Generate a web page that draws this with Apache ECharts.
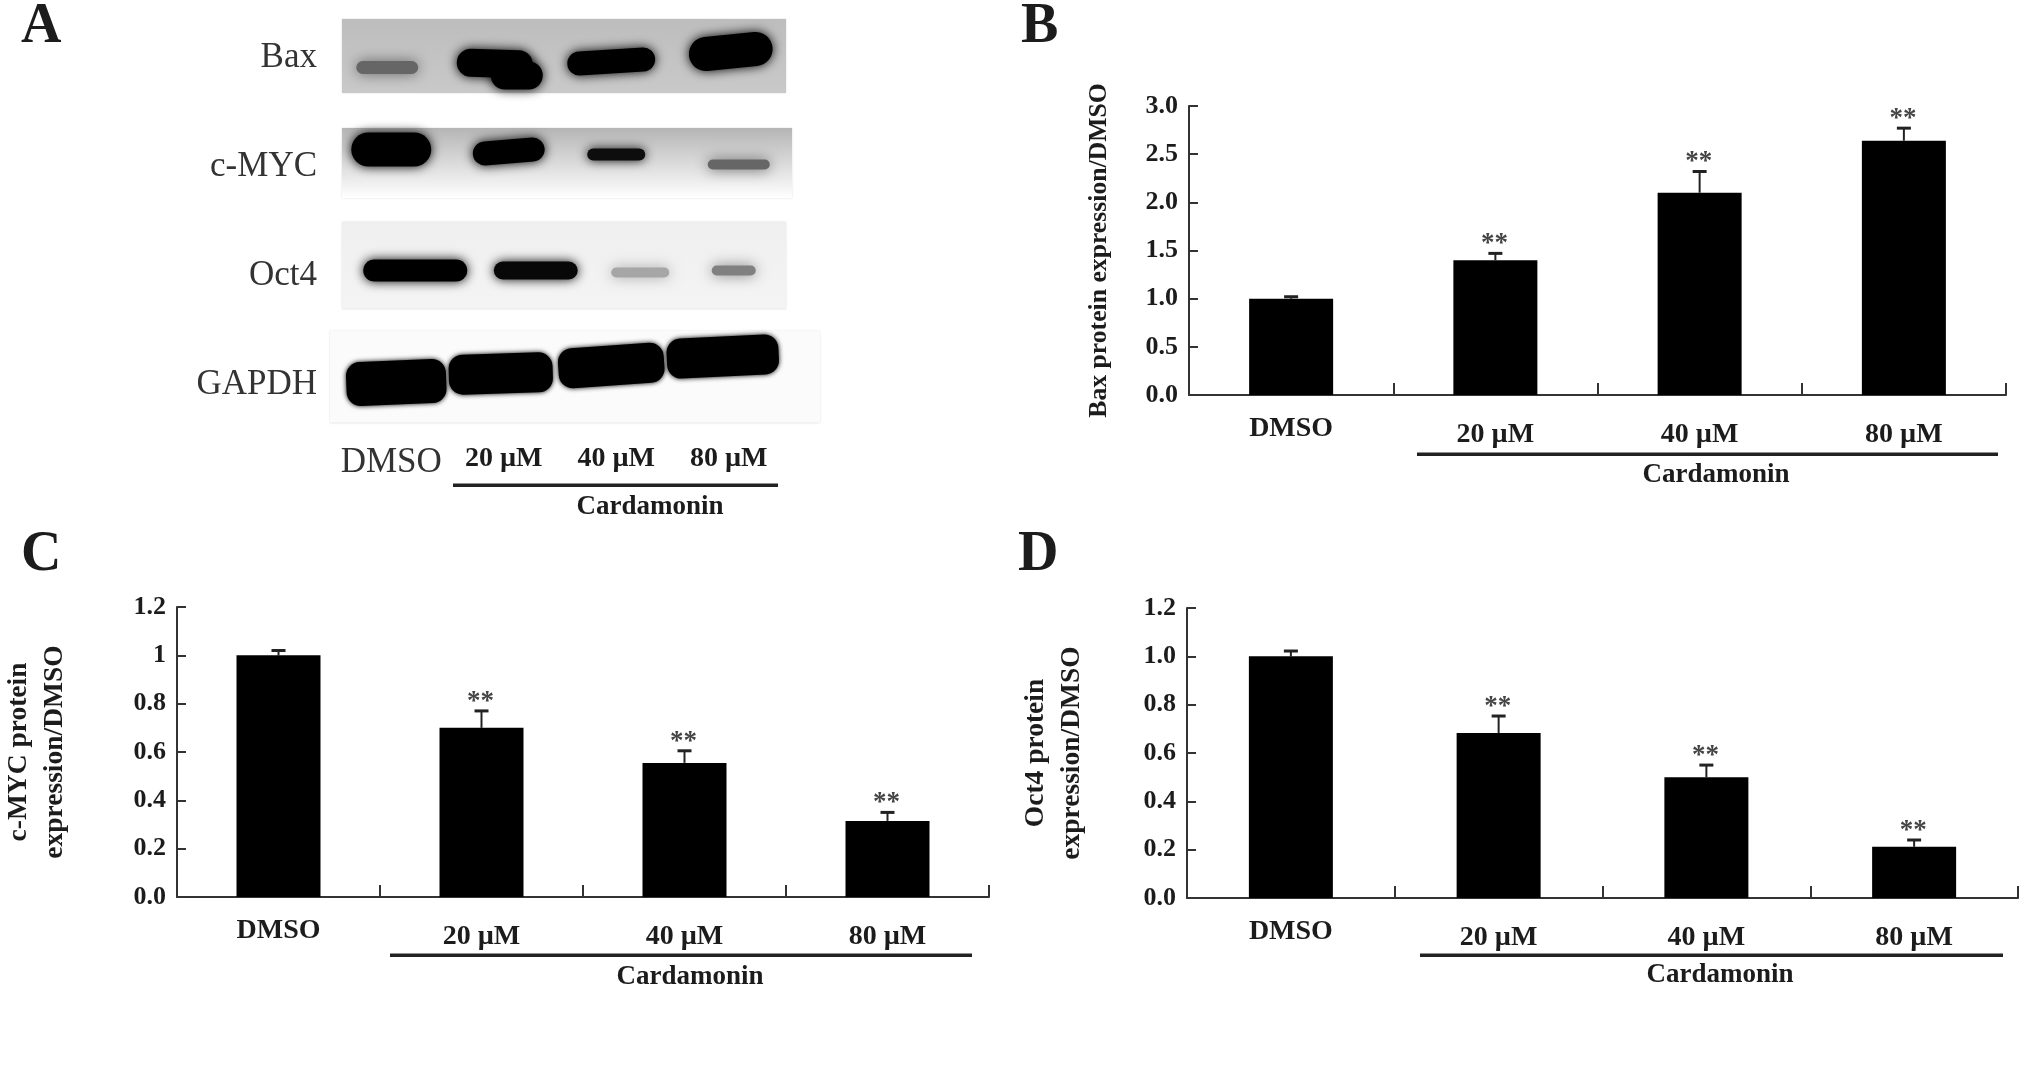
<!DOCTYPE html>
<html><head><meta charset="utf-8">
<style>html,body{margin:0;padding:0;background:#fff}#c{width:2031px;height:1072px;filter:blur(0.6px)}</style>
<script src="https://cdn.jsdelivr.net/npm/echarts@6/dist/echarts.min.js"></script>
</head><body><div id="c"></div>
<script>
// ---------- data ----------
const doseLabels = ['DMSO', '20 µM', '40 µM', '80 µM'];
const blotRows = ['Bax', 'c-MYC', 'Oct4', 'GAPDH'];
const baxBlot = [0.6, 1, 1, 1];
const mycBlot = [1, 1, 0.95, 0.6];
const oct4Blot = [1, 0.97, 0.35, 0.5];
const gapdhBlot = [1, 1, 1, 1];

const baxMean = [1.0, 1.4, 2.1, 2.64];
const baxErrTop = [1.02, 1.47, 2.32, 2.77];
const mycMean = [1.0, 0.7, 0.555, 0.315];
const mycErrTop = [1.02, 0.77, 0.605, 0.35];
const oct4Mean = [1.0, 0.683, 0.5, 0.212];
const oct4ErrTop = [1.022, 0.753, 0.55, 0.24];
const significance = ['', '**', '**', '**'];

const baxTicks = ['0.0', '0.5', '1.0', '1.5', '2.0', '2.5', '3.0'];
const mycTicks = ['0.0', '0.2', '0.4', '0.6', '0.8', '1', '1.2'];
const oct4Ticks = ['0.0', '0.2', '0.4', '0.6', '0.8', '1.0', '1.2'];

// ---------- layout ----------
const FONT = '"Liberation Serif","Times New Roman",serif';
const INK = '#1c1c1c';
const grids = [], xAxes = [], yAxes = [], series = [], graphics = [];

function letter(t, x, y) {
  graphics.push({type:'text', left:x, top:y, style:{text:t, font:'bold 56px '+FONT, fill:INK}});
}
function bracket(x1, x2, y, cx, ty) {
  graphics.push({type:'rect', shape:{x:x1, y:y-1.5, width:x2-x1, height:3.5}, style:{fill:'#222'}});
  graphics.push({type:'text', x:cx, y:ty, style:{text:'Cardamonin', font:'bold 27px '+FONT, fill:INK, textAlign:'center', textVerticalAlign:'middle'}});
}

function panel(p) {
  const i = grids.length;
  grids.push({left:p.l, top:p.t, width:p.r-p.l, height:p.b-p.t, containLabel:false});
  xAxes.push({
    type:'category', gridIndex:i, data:doseLabels.map((d, k) => ({value:d, textStyle:{padding:[k ? 6 : 0, 0, 0, 0]}})),
    axisLine:{lineStyle:{color:'#333', width:2}},
    axisTick:{show:true, inside:true, length:12, alignWithLabel:false, lineStyle:{color:'#333', width:2}},
    axisLabel:{interval:0, margin:p.xm || 20, color:INK, fontFamily:FONT, fontWeight:'bold', fontSize:28},
    splitLine:{show:false}
  });
  yAxes.push({
    type:'value', gridIndex:i, min:0, max:p.max, interval:p.step,
    name:p.name, nameLocation:'middle', nameRotate:90, nameGap:p.gap,
    nameTextStyle:{color:INK, fontFamily:FONT, fontWeight:'bold', fontSize:p.nameSize, lineHeight:36},
    axisLine:{show:true, lineStyle:{color:'#333', width:2}},
    axisTick:{show:true, inside:true, length:9, lineStyle:{color:'#333', width:2}},
    axisLabel:{margin:11, color:INK, fontFamily:FONT, fontWeight:'bold', fontSize:26,
      formatter:(v, idx) => p.ticks[idx]},
    splitLine:{show:false}
  });
  series.push({type:'bar', name:p.sname, xAxisIndex:i, yAxisIndex:i, data:p.mean, barWidth:84,
    itemStyle:{color:'#000'}, animation:false, z:3});
  series.push({type:'custom', name:p.sname+' error', xAxisIndex:i, yAxisIndex:i, animation:false, z:2,
    data:p.err.map((e, k) => [k, p.mean[k], e]),
    encode:{x:0, y:[1, 2]},
    renderItem:(params, api) => {
      const a = api.coord([api.value(0), api.value(1)]);
      const b = api.coord([api.value(0), api.value(2)]);
      const kids = [
        {type:'line', shape:{x1:a[0], y1:a[1], x2:a[0], y2:b[1]}, style:{stroke:'#222', lineWidth:2}},
        {type:'line', shape:{x1:a[0]-7, y1:b[1], x2:a[0]+7, y2:b[1]}, style:{stroke:'#222', lineWidth:3}},
        {type:'text', style:{x:a[0]-1, y:b[1]-9, text:significance[params.dataIndex], font:'bold 27px '+FONT,
          fill:'#444', textAlign:'center', textVerticalAlign:'middle'}}
      ];
      return {type:'group', children:kids};
    }});
}

panel({sname:'Bax', l:1189, r:2006, t:106, b:395, max:3, step:0.5, ticks:baxTicks, mean:baxMean, err:baxErrTop,
  name:'Bax protein expression/DMSO', nameSize:25.7, gap:72});
panel({sname:'c-MYC', l:160, r:989, t:607, b:897, max:1.2, step:0.2, ticks:mycTicks, mean:mycMean, err:mycErrTop,
  name:'c-MYC protein\nexpression/DMSO', nameSize:27.5, gap:104});
panel({sname:'Oct4', l:1187, r:2018, t:608, b:898, max:1.2, step:0.2, ticks:oct4Ticks, mean:oct4Mean, err:oct4ErrTop,
  name:'Oct4 protein\nexpression/DMSO', nameSize:27.5, gap:97});

letter('A', 21, 0); letter('B', 1021, 0); letter('C', 21, 528); letter('D', 1018, 528);
bracket(1417, 1998, 454, 1716, 475);
bracket(390, 972, 955, 690, 977);
bracket(1420, 2003, 955, 1720, 975);
bracket(453, 778, 485, 650, 507);

// ---------- panel A: blot, rows and lanes come from the axes ----------
const blotIdx = grids.length;
grids.push({left:335, top:3, width:450, height:436});
xAxes.push({type:'category', gridIndex:blotIdx,
  data:doseLabels.map((d, k) => k ? d : {value:d, textStyle:{fontWeight:'normal', fontSize:35, color:'#333'}}),
  axisLine:{show:false}, axisTick:{show:false},
  axisLabel:{interval:0, margin:6, color:INK, fontFamily:FONT, fontWeight:'bold', fontSize:28}});
yAxes.push({type:'category', gridIndex:blotIdx, inverse:true, data:blotRows,
  axisLine:{show:false}, axisTick:{show:false},
  axisLabel:{margin:18, color:'#333', fontFamily:FONT, fontSize:35}});

// membrane backdrops: [dx from lane grid left, dy from row centre, w, h, top colour, bottom colour]
const membrane = [
  [7, -38.5, 444, 74, '#bdbdbd', '#c9c9c9'],
  [7, -38.5, 450, 70, '#b5b5b5', '#ffffff'],
  [7, -54, 444, 87, '#efefef', '#f4f4f4'],
  [-5, -54, 490, 92, '#fbfbfb', '#fbfbfb']
];
// band outlines for each row/lane: list of [dx, dy, w, h, rotation] relative to the lane/row centre
const bandForm = [
  [[[-4, 10, 62, 13, 0]], [[-9, 6, 76, 28, -0.03], [13, 18, 52, 28, 0]], [[-5, 4, 88, 24, 0.06]], [[2, -6, 84, 34, 0.1]]],
  [[[0, -17, 80, 34, 0]], [[5, -15, 72, 24, 0.08]], [[0, -12, 58, 12, 0]], [[10, -2, 62, 10, 0]]],
  [[[24, -5, 104, 22, 0]], [[32, -5, 84, 18, 0]], [[24, -3, 58, 10, 0]], [[5, -5, 44, 10, 0]]],
  [[[5, -2, 100, 44, 0.04]], [[-3, -11, 104, 40, 0.03]], [[-5, -19, 106, 40, 0.07]], [[-6, -28, 112, 40, 0.05]]]
];
const blotValues = [baxBlot, mycBlot, oct4Blot, gapdhBlot];
const blotData = [];
blotValues.forEach((row, r) => row.forEach((v, c) => blotData.push([c, r, v])));

series.push({type:'custom', name:'membrane', xAxisIndex:blotIdx, yAxisIndex:blotIdx, animation:false, z:1, silent:true,
  data:blotRows.map((n, r) => [0, r]), encode:{x:0, y:1},
  renderItem:(params, api) => {
    const pt = api.coord([0, api.value(1)]);
    const m = membrane[params.dataIndex];
    const x0 = pt[0] - 56.25;
    return {type:'rect', shape:{x:x0+m[0], y:pt[1]+m[1], width:m[2], height:m[3]},
      style:{fill:{type:'linear', x:0, y:0, x2:0, y2:1, colorStops:[{offset:0, color:m[4]}, {offset:1, color:m[5]}]}, shadowBlur:2, shadowColor:'#ddd'}};
  }});
series.push({type:'custom', name:'bands', xAxisIndex:blotIdx, yAxisIndex:blotIdx, animation:false, z:2, silent:true,
  data:blotData, encode:{x:0, y:1},
  renderItem:(params, api) => {
    const c = api.value(0), r = api.value(1), v = api.value(2);
    const pt = api.coord([c, r]);
    const g = Math.round(255 * (1 - v));
    const col = 'rgb(' + g + ',' + g + ',' + g + ')';
    const gapdh = r === 3;
    const children = bandForm[r][c].map(f => ({
      type:'rect', x:pt[0]+f[0], y:pt[1]+f[1], rotation:f[4],
      shape:{x:-f[2]/2, y:-f[3]/2, width:f[2], height:f[3], r:gapdh ? 14 : f[3]/2},
      style:{fill:col, shadowBlur:gapdh ? 5 : (v < 0.7 ? 14 : 11), shadowColor:col}
    }));
    return {type:'group', children};
  }});

const chart = echarts.init(document.getElementById('c'), null, {renderer:'canvas'});
chart.setOption({
  animation:false, backgroundColor:'#fff', textStyle:{fontFamily:FONT},
  grid:grids, xAxis:xAxes, yAxis:yAxes, series, graphic:{elements:graphics}
});
</script></body></html>
